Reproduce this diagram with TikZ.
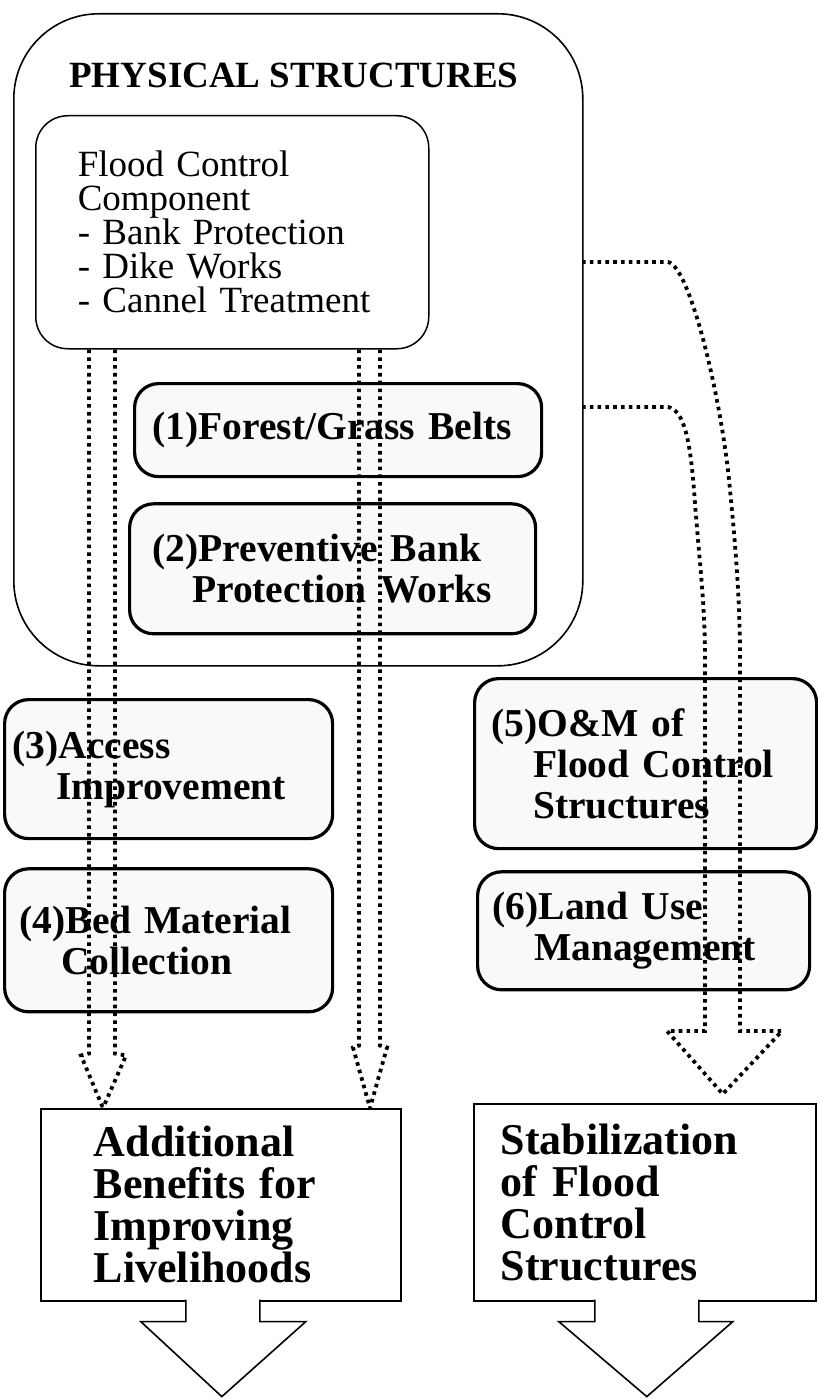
\documentclass[tikz,border=0pt]{standalone}
\usepackage{fontspec}
\setmainfont{Liberation Serif}
\usetikzlibrary{positioning, calc}

\begin{document}
\begin{tikzpicture}[x=1pt, y=1pt,
    outerbox/.style={draw, line width=1.6pt, rounded corners=85pt, minimum width=569pt, minimum height=652pt, anchor=north west},
    compbox/.style={draw, line width=1.5pt, rounded corners=32pt, align=left, font=\fontsize{37}{34}\selectfont, inner ysep=0pt, inner xsep=42pt},
    measure/.style={draw, line width=3.2pt, rounded corners=24pt, fill=gray!5, align=left, font=\fontsize{39.5}{41}\selectfont\bfseries, inner ysep=0pt},
    result/.style={draw, line width=1.6pt, align=left, font=\fontsize{44}{42}\selectfont\bfseries, inner ysep=0pt},
    flow/.style={line width=3.8pt, dash pattern=on 3.6pt off 4.2pt},
    blockarrow/.style={line width=1.6pt, fill=white},
]
\useasboundingbox (0,0) rectangle (817,-1399);

% ── Physical structures ──
\node[outerbox] (phys) at (13,-13) {};
\node[font=\fontsize{37}{40}\selectfont\bfseries, anchor=base] (title) at (294,-88) {PHYSICAL STRUCTURES};

\node[compbox, anchor=north west, minimum width=393pt, minimum height=233pt, text width=309pt] (fcc) at (35,-115)
    {Flood Control\\Component\\- Bank Protection\\- Dike Works\\- Cannel Treatment};

\node[measure, anchor=north west, minimum width=407pt, minimum height=93pt, inner xsep=18pt, text width=371pt] (m1) at (133,-382)
    {(1)Forest/Grass Belts};
\node[measure, below=24pt of m1, xshift=-5.5pt, minimum width=406pt, minimum height=130pt, inner xsep=23pt, text width=360pt] (m2)
    {(2)Preventive Bank\\\hspace*{1em}Protection Works};

% ── Other measures ──
\node[measure, anchor=north west, minimum width=328pt, minimum height=139pt, inner xsep=8pt, text width=312pt] (m3) at (3,-698)
    {(3)Access\\\hspace*{1.1em}Improvement};
\node[measure, below=27pt of m3, minimum width=328pt, minimum height=143pt, inner xsep=15pt, text width=298pt] (m4)
    {(4)Bed Material\\\hspace*{1.05em}Collection};

\node[measure, anchor=north west, minimum width=342pt, minimum height=170pt, inner xsep=17pt, text width=308pt] (m5) at (473,-677)
    {(5)O\&M of\\\hspace*{1.05em}Flood Control\\\hspace*{1.05em}Structures};
\node[measure, below=20pt of m5, xshift=-2pt, minimum width=332pt, minimum height=118pt, inner xsep=15pt, text width=302pt] (m6)
    {(6)Land Use\\\hspace*{1.05em}Management};

% ── Results ──
\node[result, anchor=north west, minimum width=360pt, minimum height=192pt, inner xsep=53pt, text width=254pt] (benefit) at (40,-1108)
    {Additional\\Benefits for\\Improving\\Livelihoods};
\node[result, anchor=north west, minimum width=342pt, minimum height=197pt, inner xsep=27pt, text width=288pt] (stabil) at (473,-1103)
    {Stabilization\\of Flood\\Control\\Structures};

\filldraw[blockarrow] ([xshift=-35pt, yshift=2pt]benefit.south) -- ++(0,-22) -- ++(-45,0) -- ++(81,-75) -- ++(84,75) -- ++(-46,0) -- ++(0,22);
\filldraw[blockarrow] ([xshift=-50pt, yshift=2pt]stabil.south) -- ++(0,-22) -- ++(-36,0) -- ++(88,-75) -- ++(86,75) -- ++(-34,0) -- ++(0,22);

% ── Dotted flows ──
\draw[flow] ([xshift=54pt]fcc.south west) -- ++(0,-704) -- ++(-8,-2) -- ([xshift=63pt]benefit.north west);
\draw[flow] ([xshift=80pt]fcc.south west) -- ++(0,-704) -- ++(11,-2) -- ([xshift=63pt]benefit.north west);
\draw[flow] ([xshift=324pt]fcc.south west) -- ++(0,-696) -- ++(-6,-2) -- ([xshift=330pt]benefit.north west);
\draw[flow] ([xshift=345pt]fcc.south west) -- ++(0,-696) -- ++(7,-2) -- ([xshift=330pt]benefit.north west);

\coordinate (up) at (582,-262);
\coordinate (low) at (582,-407);
\coordinate (tip) at ([xshift=78pt, yshift=9pt]stabil.north);
\draw[flow] (up) -- (668,-262) .. controls (690,-266) and (722,-400) .. (730,-490)
    .. controls (737,-560) and (740,-610) .. (740,-660) -- (740,-1031) -- (782,-1031) -- (tip);
\draw[flow] (low) -- (668,-407) .. controls (684,-410) and (690,-440) .. (694,-490)
    .. controls (699,-560) and (705,-600) .. (705,-660) -- (705,-1031) -- (667,-1031) -- (tip);

\end{tikzpicture}
\end{document}
